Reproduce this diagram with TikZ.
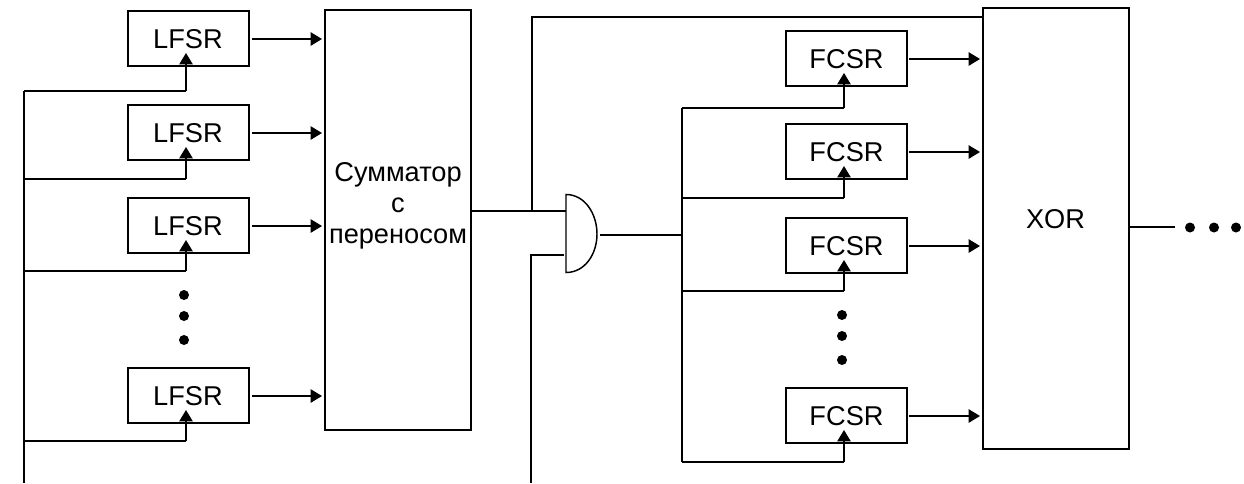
\documentclass[tikz,border=0pt]{standalone}
\usepackage{fontspec}
\setmainfont{Liberation Sans}
\usetikzlibrary{arrows.meta,calc}
\tikzset{
  x=0.75pt,y=-0.75pt,
  block/.style={draw=black,line width=1.1pt,outer sep=0pt,minimum width=90.75pt,minimum height=41.25pt,inner sep=0pt,anchor=north west},
  big/.style={draw=black,line width=1.1pt,outer sep=0pt,minimum width=109.5pt,inner sep=0pt,anchor=north west},
  lab/.style={font=\fontsize{20.4}{23.2}\selectfont,align=center,text=black},
  wire/.style={draw=black,line width=1.1pt},
  arr/.style={wire,-{Triangle[length=8.5pt,width=10pt]}},
  bigdot/.style={circle,fill=black,draw=none,minimum size=7.5pt,inner sep=0pt},
}
\begin{document}
\begin{tikzpicture}
\useasboundingbox (0,0) rectangle (1244,483);
% Adder and XOR
\node[big,minimum height=315pt] (adder) at (325,10) {};
\node[lab] (addertext) at (398,205.5) {Сумматор\\с\\переносом};
\node[big,minimum height=330.75pt] (xor) at (983,8) {};
\node[lab] (xortext) at (1055.5,219.5) {XOR};
% LFSR blocks
\foreach \n/\y/\by in {1/11/91,2/105/179,3/198/271,4/368/441}{
  \node[block] (L\n) at (128,\y) {};
  \node[lab] (Lt\n) at (188,\y+28) {LFSR};
  \coordinate (Lo\n) at (252,\y+28);
  \coordinate (Li\n) at (322,\y+28);
  \coordinate (Lb\n) at (24,\by);
  \coordinate (Lc\n) at (186,\by);
  \coordinate (Lf\n) at (186,\y+42);
  \draw[arr] (Lo\n) -- (Li\n);
  \draw[wire] (Lb\n) -- (Lc\n);
  \draw[arr] (Lc\n) -- (Lf\n);
}
\coordinate (Lbot) at (24,483);
\draw[wire] (Lb1) -- (Lbot);
\foreach \n/\y in {a/295,b/316,c/340}{\node[bigdot] (ld\n) at (184,\y) {};}
% FCSR blocks
\foreach \n/\y/\by in {1/31/108,2/124/198,3/218/291,4/388/462}{
  \node[block] (F\n) at (786,\y) {};
  \node[lab] (Ft\n) at (846.5,\y+28) {FCSR};
  \coordinate (Fo\n) at (909,\y+28);
  \coordinate (Fi\n) at (980,\y+28);
  \coordinate (Fb\n) at (682,\by);
  \coordinate (Fc\n) at (844,\by);
  \coordinate (Ff\n) at (844,\y+42);
  \draw[arr] (Fo\n) -- (Fi\n);
  \draw[wire] (Fb\n) -- (Fc\n);
  \draw[arr] (Fc\n) -- (Ff\n);
}
\draw[wire] (Fb1) -- (Fb4);
\foreach \n/\y in {a/315,b/336,c/360}{\node[bigdot] (fd\n) at (842,\y) {};}
% AND gate
\coordinate (gt) at (566,194.5);
\coordinate (gb) at (566,272.5);
\coordinate (gr) at (597,234);
\draw[wire] (gt) -- (gb) .. controls (585,272.5) and (597,254) .. (gr) .. controls (597,214) and (585,194.5) .. (gt) -- cycle;
% wires around gate
\coordinate (ao) at (471.5,211);
\coordinate (gi1) at (566,211);
\coordinate (j) at (532,211);
\coordinate (jt) at (532,17);
\coordinate (xt) at (983,17);
\draw[wire] (ao) -- (gi1);
\draw[wire] (j) -- (jt) -- (xt);
\coordinate (lb) at (531,483);
\coordinate (lc) at (531,255);
\coordinate (gi2) at (564,255);
\draw[wire] (lb) -- (lc) -- (gi2);
\coordinate (go) at (600,235);
\coordinate (bus) at (682,235);
\draw[wire] (go) -- (bus);
% XOR output
\coordinate (xo) at (1129,227);
\coordinate (xe) at (1175,227);
\draw[wire] (xo) -- (xe);
\foreach \n/\x in {a/1190,b/1214,c/1236}{\node[bigdot] (xd\n) at (\x,227.5) {};}
\end{tikzpicture}
\end{document}
